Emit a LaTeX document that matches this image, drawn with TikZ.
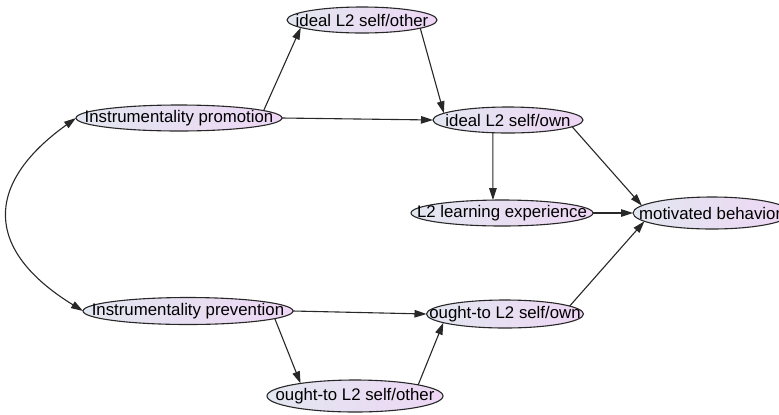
\documentclass[tikz,border=0pt]{standalone}
\usepackage{fontspec}
\setmainfont{Liberation Sans}
\usetikzlibrary{shapes.geometric,arrows.meta}
\definecolor{fillL}{RGB}{226,231,240}
\definecolor{fillR}{RGB}{238,214,244}
\definecolor{edgec}{RGB}{40,40,40}
\tikzset{
  var/.style={ellipse, draw=edgec, line width=1.1bp, left color=fillL, right color=fillR,
    inner sep=0pt, outer sep=0pt},
  vtext/.style={font=\fontsize{16.8bp}{19bp}\selectfont, text=black, inner sep=0pt},
  arr/.style={-{Triangle[length=12bp,width=7.5bp]}, line width=1.1bp, draw=edgec},
  biarr/.style={{Triangle[length=12bp,width=7.5bp]}-{Triangle[length=12bp,width=7.5bp]}, line width=1.1bp, draw=edgec}
}
\begin{document}
\begin{tikzpicture}[x=1bp,y=-1bp]
\useasboundingbox (0,0) rectangle (779,414);
\clip (0,0) rectangle (779,414);
\fill[white] (0,0) rectangle (779,414);

\node[var, minimum width=150bp, minimum height=26bp] (iso)  at (362,20)  {};
\node[var, minimum width=206bp, minimum height=26bp] (ip)   at (179,118) {};
\node[var, minimum width=150bp, minimum height=26bp] (iown) at (508,120) {};
\node[var, minimum width=182bp, minimum height=26bp] (l2)   at (502,213) {};
\node[var, minimum width=158bp, minimum height=32bp] (mb)   at (712,213) {};
\node[var, minimum width=210bp, minimum height=27bp] (ipv)  at (188,311) {};
\node[var, minimum width=157bp, minimum height=28bp] (oown) at (505,314) {};
\node[var, minimum width=176bp, minimum height=32bp] (oso)  at (355,396) {};

\node[vtext] (tiso)  at (iso)  {ideal L2 self/other};
\node[vtext] (tip)   at (ip)   {Instrumentality promotion};
\node[vtext] (tiown) at (iown) {ideal L2 self/own};
\node[vtext] (tl2)   at (l2)   {L2 learning experience};
\node[vtext, anchor=west] (tmb) at ([xshift=6bp]mb.west) {motivated behavior};
\node[vtext] (tipv)  at (ipv)  {Instrumentality prevention};
\node[vtext] (toown) at (oown) {ought-to L2 self/own};
\node[vtext] (toso)  at (oso)  {ought-to L2 self/other};

\draw[arr] (ip.5) -- (iso.187);
\draw[arr] (iso.352) -- (iown.174);
\draw[arr] (ip.east) -- (iown.west);
\draw[arr] (iown.220) -- (l2.125);
\draw[arr] (iown.354) -- (mb.174);
\draw[arr] (l2.east) -- (mb.west);
\draw[arr] (oown.7) -- (mb.187);
\draw[arr] (ipv.east) -- (oown.west);
\draw[arr] (ipv.355.5) -- (oso.167);
\draw[arr] (oso.10) -- (oown.188);
\draw[biarr] (ip.west) .. controls (-16,184) and (-16,250) .. (ipv.west);
\end{tikzpicture}
\end{document}
